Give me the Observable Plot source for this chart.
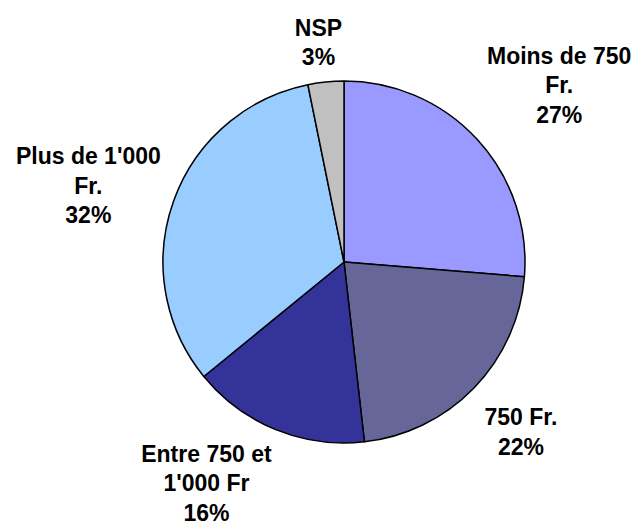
<!DOCTYPE html>
<html>
<head>
<meta charset="utf-8">
<script src="https://cdn.jsdelivr.net/npm/d3@7"></script>
<script src="https://cdn.jsdelivr.net/npm/@observablehq/plot@0.6"></script>
<style>
  html, body { margin: 0; padding: 0; background: #fff; }
  #chart { width: 636px; height: 530px; }
</style>
</head>
<body>
<div id="chart"></div>
<script>
// ---- data ----
const categories = ["Moins de 750", "750 Fr.", "Entre 750 et 1'000 Fr", "Plus de 1'000 Fr.", "NSP"];
const labelNames = ["Moins de 750\nFr.", "750 Fr.", "Entre 750 et\n1'000 Fr", "Plus de 1'000\nFr.", "NSP"];
const shares = [26.3, 21.9, 15.9, 32.7, 3.2];           // slice sizes
const pctLabels = ["27%", "22%", "16%", "32%", "3%"];   // printed labels
const colors = ["#9999FF", "#666699", "#333399", "#99CCFF", "#C0C0C0"];

// ---- layout ----
const W = 636, H = 530;
const CX = 344, CY = 262, R = 181;       // pie centre and radius in px
const labelRadius = 1.35;                // in pie radii
const labelNudge = [[35, -13], [1, -2], [-46, -7], [-26, 4], [-1.5, 21.5]]; // px

const rows = categories.map((c, i) => ({category: c, value: shares[i], name: labelNames[i], pct: pctLabels[i]}));
const arcs = d3.pie().sort(null).value(d => d.value)(rows);
rows.forEach((d, i) => {
  const a = (arcs[i].startAngle + arcs[i].endAngle) / 2;
  d.lx = Math.sin(a) * labelRadius + labelNudge[i][0] / R;
  d.ly = Math.cos(a) * labelRadius - labelNudge[i][1] / R;
  d.text = d.name + "\n" + d.pct;
});

const slices = Plot.dot(rows, {
  x: () => 0, y: () => 0, fill: "category",
  render(index, scales, values) {
    const cx = scales.x(0), cy = scales.y(0);
    const r = Math.abs(scales.x(1) - scales.x(0));
    const arc = d3.arc().innerRadius(0).outerRadius(r);
    const g = d3.create("svg:g").attr("transform", `translate(${cx},${cy})`);
    g.selectAll("path").data(index).join("path")
      .attr("d", i => arc(arcs[i]))
      .attr("fill", i => values.fill[i])
      .attr("stroke", "#000")
      .attr("stroke-width", 1.5)
      .attr("stroke-linejoin", "round");
    return g.node();
  }
});

const chart = Plot.plot({
  width: W, height: H,
  margin: 0,
  x: {domain: [-1, 1], range: [CX - R, CX + R], axis: null},
  y: {domain: [-1, 1], range: [CY + R, CY - R], axis: null},
  color: {domain: categories, range: colors},
  style: {fontFamily: "'Liberation Sans', Arial, sans-serif", background: "#fff"},
  marks: [
    slices,
    Plot.text(rows, {
      x: "lx", y: "ly", text: "text",
      fontSize: 23, fontWeight: "bold", fill: "#000",
      lineHeight: 1.28, textAnchor: "middle"
    })
  ]
});
document.getElementById("chart").appendChild(chart);
</script>
</body>
</html>
